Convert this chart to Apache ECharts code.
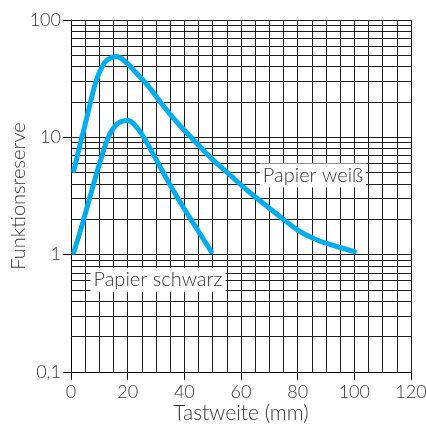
<!DOCTYPE html>
<html>
<head>
<meta charset="utf-8">
<script src="https://cdn.jsdelivr.net/npm/echarts@6/dist/echarts.min.js"></script>
<style>
html,body{margin:0;padding:0;background:#fff;}
#chart{width:426px;height:436px;}
</style>
</head>
<body>
<div id="chart"></div>
<script>
// Data
const weissX = [1, 3, 5, 7, 9, 11, 13, 16, 19, 23, 27, 31, 35, 39, 45, 50, 56, 62, 68, 74, 80, 86, 92, 100];
const weissY = [5.2, 8.3, 12.9, 20.5, 31, 40, 46, 48.8, 44.5, 35.5, 27.9, 20.8, 15.7, 12.2, 8.6, 6.45, 4.8, 3.56, 2.72, 2.09, 1.62, 1.36, 1.21, 1.06];
const schwarzX = [1, 4, 7, 10, 13, 15, 17, 20, 23, 26, 30, 35, 40, 45, 49.5];
const schwarzY = [1.05, 1.82, 3.3, 5.9, 9.8, 12, 13.4, 13.9, 12.3, 9.7, 6.5, 3.93, 2.45, 1.58, 1.06];
const xTicks = [0, 20, 40, 60, 80, 100, 120];
const yTicks = [0.1, 1, 10, 100];
const minorLogLines = [0.2,0.3,0.4,0.5,0.6,0.7,0.8,0.9,2,3,4,5,6,7,8,9,20,30,40,50,60,70,80,90];
const labelWeiss = {text: 'Papier weiß', x: 85.4, y: 4.73};
const labelSchwarz = {text: 'Papier schwarz', x: 30.7, y: 0.608};

const FONT = 'Lato';
const TXT = '#333';
const GRID = '#1a1a1a';
const BLUE = '#00aeef';
const FS = 18;

const chart = echarts.init(document.getElementById('chart'));
const pair = (xs, ys) => xs.map((x, i) => [x, ys[i]]);

const labelStyle = {
  show: true, position: 'inside', color: TXT, fontFamily: FONT, fontSize: 20, fontWeight: 300,
  backgroundColor: '#fff', padding: [2, 3, 2, 3]
};

chart.setOption({
  animation: false,
  grid: {left: 71, right: 15, top: 20, bottom: 64, outerBoundsMode: 'none', containLabel: false},
  xAxis: {
    type: 'value', min: xTicks[0], max: xTicks[xTicks.length - 1], interval: 20,
    name: 'Tastweite (mm)', nameLocation: 'middle', nameGap: 31, nameMoveOverlap: false,
    nameTextStyle: {color: TXT, fontFamily: FONT, fontSize: 21, fontWeight: 300},
    axisLine: {show: true, lineStyle: {color: '#000', width: 1}},
    axisTick: {show: true, length: 8, lineStyle: {color: '#000'}},
    axisLabel: {color: TXT, fontFamily: FONT, fontSize: FS, fontWeight: 300, margin: 11},
    splitLine: {show: true, lineStyle: {color: GRID, width: 1}},
    minorTick: {show: false, splitNumber: 4},
    minorSplitLine: {show: true, lineStyle: {color: GRID, width: 1}}
  },
  yAxis: {
    type: 'log', logBase: 10, min: yTicks[0], max: yTicks[yTicks.length - 1],
    name: 'Funktionsreserve', nameLocation: 'middle', nameGap: 42, nameMoveOverlap: false,
    nameTextStyle: {color: TXT, fontFamily: FONT, fontSize: 20, fontWeight: 300},
    axisLine: {show: true, lineStyle: {color: '#000', width: 1}},
    axisTick: {show: true, length: 8, lineStyle: {color: '#000'}},
    axisLabel: {color: TXT, fontFamily: FONT, fontSize: FS, fontWeight: 300, margin: 10,
      formatter: v => String(+v.toPrecision(6)).replace('.', ',')},
    splitLine: {show: true, lineStyle: {color: GRID, width: 1}}
  },
  series: [
    {
      type: 'line', data: [], silent: true, z: 1,
      markLine: {
        silent: true, symbol: ['none', 'none'], z: 1, animation: false,
        label: {show: false},
        lineStyle: {color: GRID, width: 1, type: 'solid'},
        emphasis: {disabled: true},
        data: minorLogLines.map(v => ({yAxis: v}))
      }
    },
    {
      name: 'Papier weiß', type: 'line', data: pair(weissX, weissY), z: 3,
      smooth: 0.4, showSymbol: false, symbol: 'none',
      lineStyle: {color: BLUE, width: 5, cap: 'round', join: 'round'},
      markPoint: {
        symbol: 'rect', symbolSize: [0, 0], z: 6, silent: true,
        label: Object.assign({}, labelStyle, {formatter: labelWeiss.text}),
        data: [{coord: [labelWeiss.x, labelWeiss.y], value: labelWeiss.text}]
      }
    },
    {
      name: 'Papier schwarz', type: 'line', data: pair(schwarzX, schwarzY), z: 3,
      smooth: 0.4, showSymbol: false, symbol: 'none',
      lineStyle: {color: BLUE, width: 5, cap: 'round', join: 'round'},
      markPoint: {
        symbol: 'rect', symbolSize: [0, 0], z: 6, silent: true,
        label: Object.assign({}, labelStyle, {formatter: labelSchwarz.text}),
        data: [{coord: [labelSchwarz.x, labelSchwarz.y], value: labelSchwarz.text}]
      }
    }
  ]
});
</script>
</body>
</html>
